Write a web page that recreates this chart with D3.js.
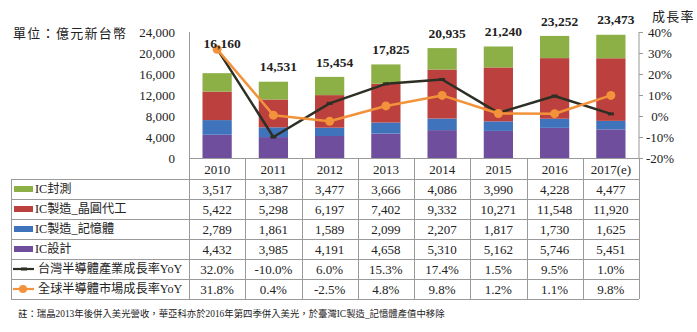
<!DOCTYPE html>
<html>
<head>
<meta charset="utf-8">
<script src="https://cdn.jsdelivr.net/npm/d3@7"></script>
<style>
  html, body { margin: 0; padding: 0; background: #fff; }
  svg { display: block; }
  text { font-family: "Liberation Serif", "Noto Sans CJK TC", serif; fill: #222; }
</style>
</head>
<body>
<svg id="chart" width="697" height="332"></svg>
<script>
// Taiwan semiconductor industry output (億元新台幣) and growth rates
const years = ["2010", "2011", "2012", "2013", "2014", "2015", "2016", "2017(e)"];
const icDesign = [4432, 3985, 4191, 4658, 5310, 5162, 5746, 5451];       // IC設計
const icMemory = [2789, 1861, 1589, 2099, 2207, 1817, 1730, 1625];       // IC製造_記憶體
const icFoundry = [5422, 5298, 6197, 7402, 9332, 10271, 11548, 11920];   // IC製造_晶圓代工
const icPackage = [3517, 3387, 3477, 3666, 4086, 3990, 4228, 4477];      // IC封測
const twGrowth = [32.0, -10.0, 6.0, 15.3, 17.4, 1.5, 9.5, 1.0];          // 台灣半導體產業成長率YoY
const globalGrowth = [31.8, 0.4, -2.5, 4.8, 9.8, 1.2, 1.1, 9.8];         // 全球半導體市場成長率YoY
const leftTicks = [0, 4000, 8000, 12000, 16000, 20000, 24000];
const rightTicks = [-20, -10, 0, 10, 20, 30, 40];

const stackSeries = [
  { key: "pkg", name: "IC封測", values: icPackage, color: "#8DB046" },
  { key: "fab", name: "IC製造_晶圓代工", values: icFoundry, color: "#BC403D" },
  { key: "mem", name: "IC製造_記憶體", values: icMemory, color: "#3F74BC" },
  { key: "des", name: "IC設計", values: icDesign, color: "#6F4F9D" }
];
const lineSeries = [
  { key: "tw", name: "台灣半導體產業成長率YoY", values: twGrowth, color: "#2E2F24" },
  { key: "gl", name: "全球半導體市場成長率YoY", values: globalGrowth, color: "#F2923A" }
];

const svg = d3.select("#chart");
const plotL = 189, plotR = 639, plotT = 32, plotB = 158;
const tableL = 11, rowH = 20, headB = 179;

const x = d3.scaleBand().domain(years).range([plotL, plotR]).paddingInner(0.48).paddingOuter(0.24);
const col = d3.scaleBand().domain(years).range([plotL, plotR]).padding(0);
const y = d3.scaleLinear().domain([0, 24000]).range([plotB, plotT]);
const y2 = d3.scaleLinear().domain([-20, 40]).range([plotB, plotT]);

// stacked bars, IC設計 at the bottom
const rows = years.map((yr, i) => {
  const r = { year: yr };
  stackSeries.forEach(s => r[s.key] = s.values[i]);
  return r;
});
const stack = d3.stack().keys(["des", "mem", "fab", "pkg"])(rows);
const colorOf = Object.fromEntries(stackSeries.map(s => [s.key, s.color]));

svg.append("g").selectAll("g").data(stack).join("g")
  .attr("fill", d => colorOf[d.key])
  .selectAll("rect").data(d => d).join("rect")
  .attr("x", d => x(d.data.year))
  .attr("width", x.bandwidth())
  .attr("y", d => y(d[1]))
  .attr("height", d => y(d[0]) - y(d[1]));

// left axis
const gL = svg.append("g").attr("transform", `translate(${plotL},0)`)
  .call(d3.axisLeft(y).tickValues(leftTicks).tickFormat(d3.format(",")).tickSize(0).tickPadding(14));
gL.select(".domain").remove();
gL.selectAll("text").attr("font-size", 13).attr("fill", "#222")
  .style("font-family", "'Liberation Serif', serif");

// right axis
const gR = svg.append("g").attr("transform", `translate(${plotR},0)`)
  .call(d3.axisRight(y2).tickValues(rightTicks).tickFormat(d => d + "%").tickSize(4).tickPadding(5));
gR.select(".domain").attr("stroke", "#999").attr("d", `M0,${plotT}V${plotB}`);
gR.selectAll(".tick line").attr("stroke", "#999");
gR.selectAll("text").attr("font-size", 13).attr("fill", "#222")
  .attr("text-anchor", "middle").attr("x", 21)
  .style("font-family", "'Liberation Serif', serif");

// growth lines
const lineGen = d3.line().x((d, i) => x(years[i]) + x.bandwidth() / 2).y(d => y2(d));
lineSeries.forEach(s => {
  svg.append("path").datum(s.values)
    .attr("fill", "none").attr("stroke", s.color).attr("stroke-width", 2.5)
    .attr("stroke-linejoin", "round").attr("d", lineGen);
});
// markers
svg.append("g").selectAll("rect").data(twGrowth).join("rect")
  .attr("x", (d, i) => x(years[i]) + x.bandwidth() / 2 - 3)
  .attr("y", d => y2(d) - 1.5).attr("width", 6).attr("height", 3)
  .attr("fill", lineSeries[0].color);
svg.append("g").selectAll("circle").data(globalGrowth).join("circle")
  .attr("cx", (d, i) => x(years[i]) + x.bandwidth() / 2)
  .attr("cy", d => y2(d)).attr("r", 4.5)
  .attr("fill", lineSeries[1].color);

// totals above bars
const totals = rows.map(r => r.des + r.mem + r.fab + r.pkg);
svg.append("g").selectAll("text").data(totals).join("text")
  .attr("x", (d, i) => x(years[i]) + x.bandwidth() / 2 + 5)
  .attr("y", (d, i) => Math.min(y(d) - 15, y2(globalGrowth[i]) - 6))
  .attr("dy", "0.35em")
  .attr("text-anchor", "middle").attr("font-size", 13.5).attr("font-weight", "bold")
  .attr("fill", "#111")
  .text(d3.format(","));

// titles
svg.append("text").attr("x", 13).attr("y", 33).attr("dy", "0.35em")
  .attr("font-size", 13).attr("letter-spacing", 1.3).attr("fill", "#333")
  .text("單位：億元新台幣");
svg.append("text").attr("x", 652).attr("y", 16).attr("dy", "0.35em")
  .attr("font-size", 13).attr("letter-spacing", 1.2).attr("fill", "#333")
  .text("成長率");

// data table
const tbl = svg.append("g");
const gridColor = "#9a9a9a";
const tableRows = [...stackSeries, ...lineSeries];
const nRows = tableRows.length;
const tableB = headB + nRows * rowH;

// header row (years)
tbl.selectAll("text.hd").data(years).join("text").attr("class", "hd")
  .attr("x", d => col(d) + col.bandwidth() / 2)
  .attr("y", (plotB + headB) / 2 + 1).attr("dy", "0.35em")
  .attr("text-anchor", "middle").attr("font-size", 13).attr("fill", "#222")
  .text(d => d);

// horizontal grid lines
tbl.append("line").attr("x1", plotL).attr("x2", plotR).attr("y1", plotB + 0.5).attr("y2", plotB + 0.5)
  .attr("stroke", gridColor);
d3.range(nRows + 1).forEach(k => {
  const yy = headB + k * rowH + 0.5;
  tbl.append("line").attr("x1", tableL).attr("x2", plotR).attr("y1", yy).attr("y2", yy)
    .attr("stroke", gridColor);
});
// vertical grid lines
tbl.append("line").attr("x1", tableL + 0.5).attr("x2", tableL + 0.5)
  .attr("y1", headB).attr("y2", tableB).attr("stroke", gridColor);
tbl.append("line").attr("x1", plotL + 0.5).attr("x2", plotL + 0.5)
  .attr("y1", plotT).attr("y2", tableB).attr("stroke", gridColor);
years.forEach(yr => {
  const xx = Math.round(col(yr) + col.bandwidth()) + 0.5;
  tbl.append("line").attr("x1", xx).attr("x2", xx)
    .attr("y1", plotB).attr("y2", tableB).attr("stroke", gridColor);
});

// row labels with legend keys, and values
tableRows.forEach((s, k) => {
  const cy = headB + k * rowH + rowH / 2;
  const isLine = s.key === "tw" || s.key === "gl";
  if (isLine) {
    tbl.append("line").attr("x1", 13).attr("x2", 34).attr("y1", cy).attr("y2", cy)
      .attr("stroke", s.color).attr("stroke-width", 2.2);
    if (s.key === "tw") {
      tbl.append("rect").attr("x", 21).attr("y", cy - 1.5).attr("width", 6).attr("height", 3).attr("fill", s.color);
    } else {
      tbl.append("circle").attr("cx", 23).attr("cy", cy).attr("r", 4).attr("fill", s.color);
    }
  } else {
    tbl.append("rect").attr("x", 14).attr("y", cy - 3).attr("width", 19).attr("height", 6).attr("fill", s.color);
  }
  tbl.append("text").attr("x", isLine ? 38 : 35).attr("y", cy).attr("dy", "0.35em")
    .attr("font-size", 12.2).attr("fill", "#222").text(s.name);
  const fmt = isLine ? (v => v.toFixed(1) + "%") : d3.format(",");
  tbl.selectAll(null).data(s.values).join("text")
    .attr("x", (d, i) => col(years[i]) + col.bandwidth() / 2)
    .attr("y", cy).attr("dy", "0.35em")
    .attr("text-anchor", "middle").attr("font-size", 13).attr("fill", "#333")
    .text(fmt);
});

// footnote
svg.append("text").attr("x", 18).attr("y", 314).attr("dy", "0.35em")
  .attr("font-size", 9.4).attr("fill", "#3a3aa0")
  .text("註：瑞晶2013年後併入美光營收，華亞科亦於2016年第四季併入美光，於臺灣IC製造_記憶體產值中移除");
</script>
</body>
</html>
